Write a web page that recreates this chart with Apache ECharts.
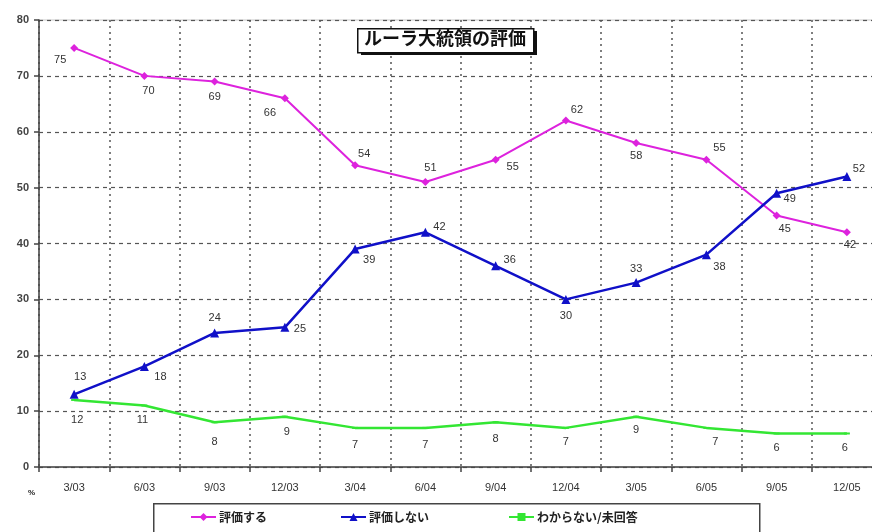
<!DOCTYPE html>
<html>
<head>
<meta charset="utf-8">
<script src="https://cdn.jsdelivr.net/npm/echarts@6/dist/echarts.min.js"></script>
<style>
  html, body { margin: 0; padding: 0; background: #fff; }
  #chart { width: 872px; height: 532px; }
</style>
</head>
<body>
<div id="chart"></div>
<script>
// Quarterly approval survey for President Lula
const quarters = ['3/03', '6/03', '9/03', '12/03', '3/04', '6/04', '9/04', '12/04', '3/05', '6/05', '9/05', '12/05'];
const approve = [75, 70, 69, 66, 54, 51, 55, 62, 58, 55, 45, 42];
const disapprove = [13, 18, 24, 25, 39, 42, 36, 30, 33, 38, 49, 52];
const noAnswer = [12, 11, 8, 9, 7, 7, 8, 7, 9, 7, 6, 6];
const yTicks = { min: 0, max: 80, step: 10 };

const seriesNames = ['評価する', '評価しない', 'わからない/未回答'];
const chartTitle = 'ルーラ大統領の評価';

// value-label nudges (pixels from the point)
const approveLabelShift = [[-14, 12], [4, 15], [0, 16], [-15, 15], [9, -11], [5, -14], [17, 7], [11, -11], [0, 13], [13, -12], [8, 13], [3, 13]];
const disapproveLabelShift = [[6, -17], [16, 11], [0, -15], [15, 2], [14, 11], [14, -5], [14, -6], [0, 17], [0, -14], [13, 12], [13, 6], [12, -7]];
const noAnswerLabelShift = [[3, 20], [-2, 14], [0, 20], [2, 15], [0, 17], [0, 17], [0, 17], [0, 14], [0, 13], [9, 14], [0, 14], [-2, 14]];

const labelFont = { fontFamily: 'Liberation Sans, Arial, sans-serif', fontSize: 11, color: '#333' };
const cjkFont = '"Noto Sans CJK JP", sans-serif';

function withLabels(values, shifts) {
  return values.map((v, i) => ({
    value: v,
    label: { offset: shifts[i] }
  }));
}

function lineSeries(name, values, shifts, color, symbol, symbolSize, width) {
  return {
    name: name,
    type: 'line',
    data: withLabels(values, shifts),
    symbol: symbol,
    symbolSize: symbolSize,
    showSymbol: true,
    lineStyle: { color: color, width: width },
    itemStyle: { color: color },
    label: Object.assign({
      show: true,
      position: 'inside',
      align: 'center',
      verticalAlign: 'middle'
    }, labelFont),
    emphasis: { disabled: true },
    animation: false
  };
}

const chart = echarts.init(document.getElementById('chart'), null, { renderer: 'canvas' });

const legendBase = {
  orient: 'horizontal',
  top: 511,
  padding: 0,
  itemWidth: 25,
  itemHeight: 10,
  z: 5,
  textStyle: { fontFamily: cjkFont, fontSize: 12, fontWeight: 'bold', color: '#222', padding: [0, 0, 0, -2] }
};

chart.setOption({
  backgroundColor: '#fff',
  animation: false,
  grid: {
    left: 39, top: 20, right: -10, bottom: 65,
    outerBoundsMode: 'none',
    containLabel: false,
    show: true, borderColor: '#c8c8c8', borderWidth: 1, backgroundColor: 'transparent'
  },
  legend: [
    Object.assign({}, legendBase, { left: 190, data: [seriesNames[0]] }),
    Object.assign({}, legendBase, { left: 340, data: [seriesNames[1]] }),
    Object.assign({}, legendBase, { left: 508, data: [seriesNames[2]] })
  ],
  xAxis: {
    type: 'category',
    data: quarters,
    boundaryGap: true,
    axisLine: { lineStyle: { color: '#444', width: 1.5 } },
    axisTick: { show: true, length: 5, lineStyle: { color: '#444', width: 1.5 } },
    axisLabel: Object.assign({ margin: 15 }, labelFont),
    splitLine: { show: true, lineStyle: { color: '#555', type: [2, 4], width: 1.5 } }
  },
  yAxis: {
    type: 'value',
    min: yTicks.min,
    max: yTicks.max,
    interval: yTicks.step,
    axisLine: { show: true, lineStyle: { color: '#444', width: 1.5 } },
    axisTick: { show: true, length: 5, lineStyle: { color: '#444', width: 1.5 } },
    axisLabel: Object.assign({ margin: 10 }, labelFont, { fontWeight: 'bold', color: '#444' }),
    splitLine: { show: true, lineStyle: { color: '#555', type: [4, 4], width: 1.2 } }
  },
  series: [
    lineSeries(seriesNames[0], approve, approveLabelShift, '#dd22dd', 'diamond', 8, 2),
    lineSeries(seriesNames[1], disapprove, disapproveLabelShift, '#1010c8', 'triangle', 9, 2.5),
    lineSeries(seriesNames[2], noAnswer, noAnswerLabelShift, '#33e633', 'rect', [6, 2], 2.5)
  ],
  graphic: [
    // boxed title with a drop shadow
    { type: 'rect', left: 361, top: 31, shape: { width: 176, height: 24 }, style: { fill: '#111' }, z: 10 },
    { type: 'rect', left: 357, top: 28, shape: { width: 176, height: 24 }, style: { fill: '#fff', stroke: '#111', lineWidth: 1.5 }, z: 11 },
    {
      type: 'text', left: 364, top: 29, z: 12,
      style: { text: chartTitle, font: 'bold 18px ' + cjkFont, fill: '#111' }
    },
    // legend frame
    { type: 'rect', left: 153, top: 503, shape: { width: 606, height: 40 }, style: { fill: '#fff', stroke: '#444', lineWidth: 1.5 }, z: 1 },
    // unit marker under the value axis
    { type: 'text', left: 28, top: 489, style: { text: '%', font: 'bold 8px Liberation Sans, sans-serif', fill: '#222' }, z: 5 }
  ]
});
</script>
</body>
</html>
